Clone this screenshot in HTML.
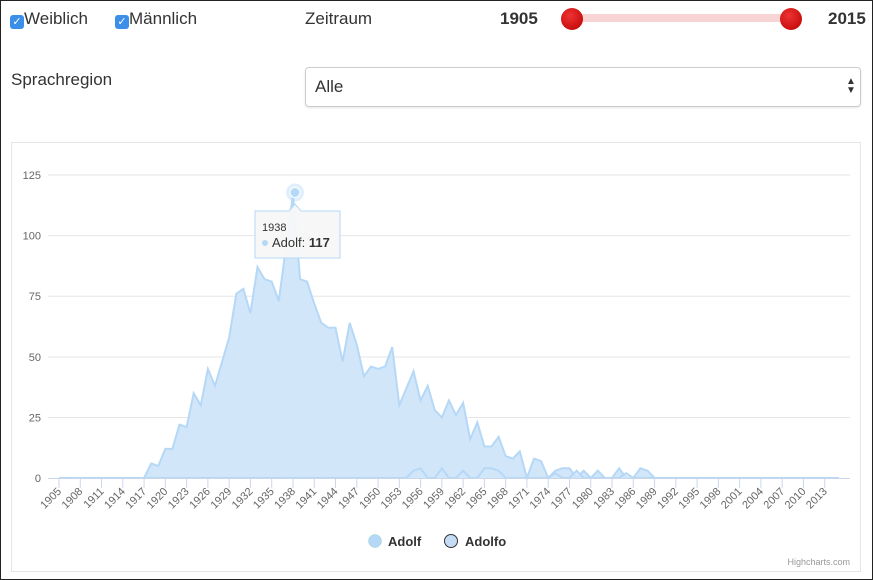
<!DOCTYPE html>
<html><head><meta charset="utf-8"><style>
body{margin:0;width:873px;height:580px;font-family:"Liberation Sans",sans-serif;background:#fff;overflow:hidden}
.frame{position:absolute;left:0;top:0;width:871px;height:578px;border:1px solid #222}
.t{position:absolute;font-size:17px;color:#333}
.cb{display:inline-block;width:14px;height:14px;background:#3b8fe8;border-radius:3px;color:#fff;font-size:11px;text-align:center;line-height:14px;vertical-align:-1px}
</style></head><body>
<div class="frame"></div>
<div class="t" style="left:10px;top:9px"><span class="cb">✓</span>Weiblich</div>
<div class="t" style="left:115px;top:9px"><span class="cb">✓</span>Männlich</div>
<div class="t" style="left:305px;top:9px">Zeitraum</div>
<div class="t" style="left:500px;top:9px;font-weight:bold">1905</div>
<div class="t" style="left:828px;top:9px;font-weight:bold">2015</div>
<div style="position:absolute;left:572px;top:14px;width:220px;height:8px;background:#f9d4d4;border-radius:3px"></div>
<div style="position:absolute;left:561px;top:8px;width:22px;height:22px;border-radius:50%;background:radial-gradient(circle at 40% 35%,#e33,#b00)"></div>
<div style="position:absolute;left:780px;top:8px;width:22px;height:22px;border-radius:50%;background:radial-gradient(circle at 40% 35%,#e33,#b00)"></div>
<div class="t" style="left:11px;top:70px">Sprachregion</div>
<div style="position:absolute;left:305px;top:67px;width:554px;height:38px;border:1px solid #ccc;border-radius:4px;box-shadow:0 1px 2px rgba(0,0,0,.1)"></div>
<div class="t" style="left:315px;top:77px">Alle</div>
<div class="t" style="left:846px;top:77px;font-size:10px;line-height:9px">▲<br>▼</div>
<div style="position:absolute;left:11px;top:142px;width:848px;height:428px;border:1px solid #e6e6e6"></div>
<svg id="s" width="873" height="580" style="position:absolute;left:0;top:0" font-family="Liberation Sans, sans-serif"></svg>
<script>
var A=[0,0,0,0,0,0,0,0,0,0,0,0,0,6,5,12,12,22,21,35,30,45,38,48,58,76,78,68,87,82,81,73,95,117,82,81,72,64,62,62,48,64,55,42,46,45,46,54,30,37,44,32,38,28,25,32,26,31,16,23,13,13,17,9,8,11,0,8,7,0,3,4,4,0,3,0,3,0,0,4,0,0,4,3,0];
while(A.length<111)A.push(0);
var B=[];for(var i=0;i<111;i++)B.push(0);
B[50]=3;B[51]=4;B[54]=4;B[57]=3;B[60]=4;B[61]=4;B[62]=3;B[70]=2;B[73]=3;B[80]=2;
function X(i){return 59+i*7.09}function Y(v){return 478-v*2.424}
var h='';
[175,235.6,296.2,357,417.5].forEach(function(y){h+='<line x1="48" x2="850" y1="'+y+'" y2="'+y+'" stroke="#e6e6e6"/>'});
['125','100','75','50','25','0'].forEach(function(t,k){h+='<text x="41" y="'+(179+k*60.6)+'" font-size="11" fill="#666" text-anchor="end">'+t+'</text>'});
function area(D,op){var p='M'+X(0)+' 478';D.forEach(function(v,i){p+=' L'+X(i).toFixed(1)+' '+Y(v).toFixed(1)});p+=' L'+X(D.length-1)+' 478 Z';
var l='M';D.forEach(function(v,i){l+=(i?' L':'')+X(i).toFixed(1)+' '+Y(v).toFixed(1)});
return '<path d="'+p+'" fill="#d2e6fa" fill-opacity="'+op+'"/><path d="'+l+'" fill="none" stroke="#b5d8f7" stroke-width="2"/>'}
h+=area(A,1)+area(B,0.8);
h+='<line x1="48" x2="850" y1="478.5" y2="478.5" stroke="#ccd6eb"/>';
for(var y=1905;y<=2015;y+=3){var x=X(y-1905);h+='<line x1="'+x+'" x2="'+x+'" y1="479" y2="488" stroke="#ccd6eb"/>'}
for(var y=1905;y<=2013;y+=3){var x=X(y-1905);h+='<text transform="translate('+(x+3)+',492) rotate(-45)" font-size="11" fill="#666" text-anchor="end">'+y+'</text>'}
h+='<circle cx="295" cy="192.5" r="9" fill="#b5d8f7" fill-opacity=".4"/><circle cx="295" cy="192.5" r="5" fill="#b5d8f7" stroke="#fff"/>';
h+='<path d="M255 211 H289 L295 204 L301 211 H340 V258 H255 Z" fill="#f7f7f7" stroke="#b5d8f7" fill-opacity=".95"/>';
h+='<text x="262" y="231" font-size="11" fill="#333">1938</text><circle cx="265" cy="243" r="3" fill="#b5d8f7"/><text x="272" y="247" font-size="13" fill="#333">Adolf: <tspan font-weight="bold">117</tspan></text>';
h+='<circle cx="375" cy="541" r="6.5" fill="#b5d8f7" stroke="#9cc" stroke-width=".5"/><text x="388" y="546" font-size="13" font-weight="bold" fill="#333">Adolf</text>';
h+='<circle cx="451" cy="541" r="6.5" fill="#c4dcf4" stroke="#333"/><text x="465" y="546" font-size="13" font-weight="bold" fill="#333">Adolfo</text>';
h+='<text x="850" y="565" font-size="9" fill="#999" text-anchor="end">Highcharts.com</text>';
document.getElementById('s').innerHTML=h;
</script>
</body></html>
